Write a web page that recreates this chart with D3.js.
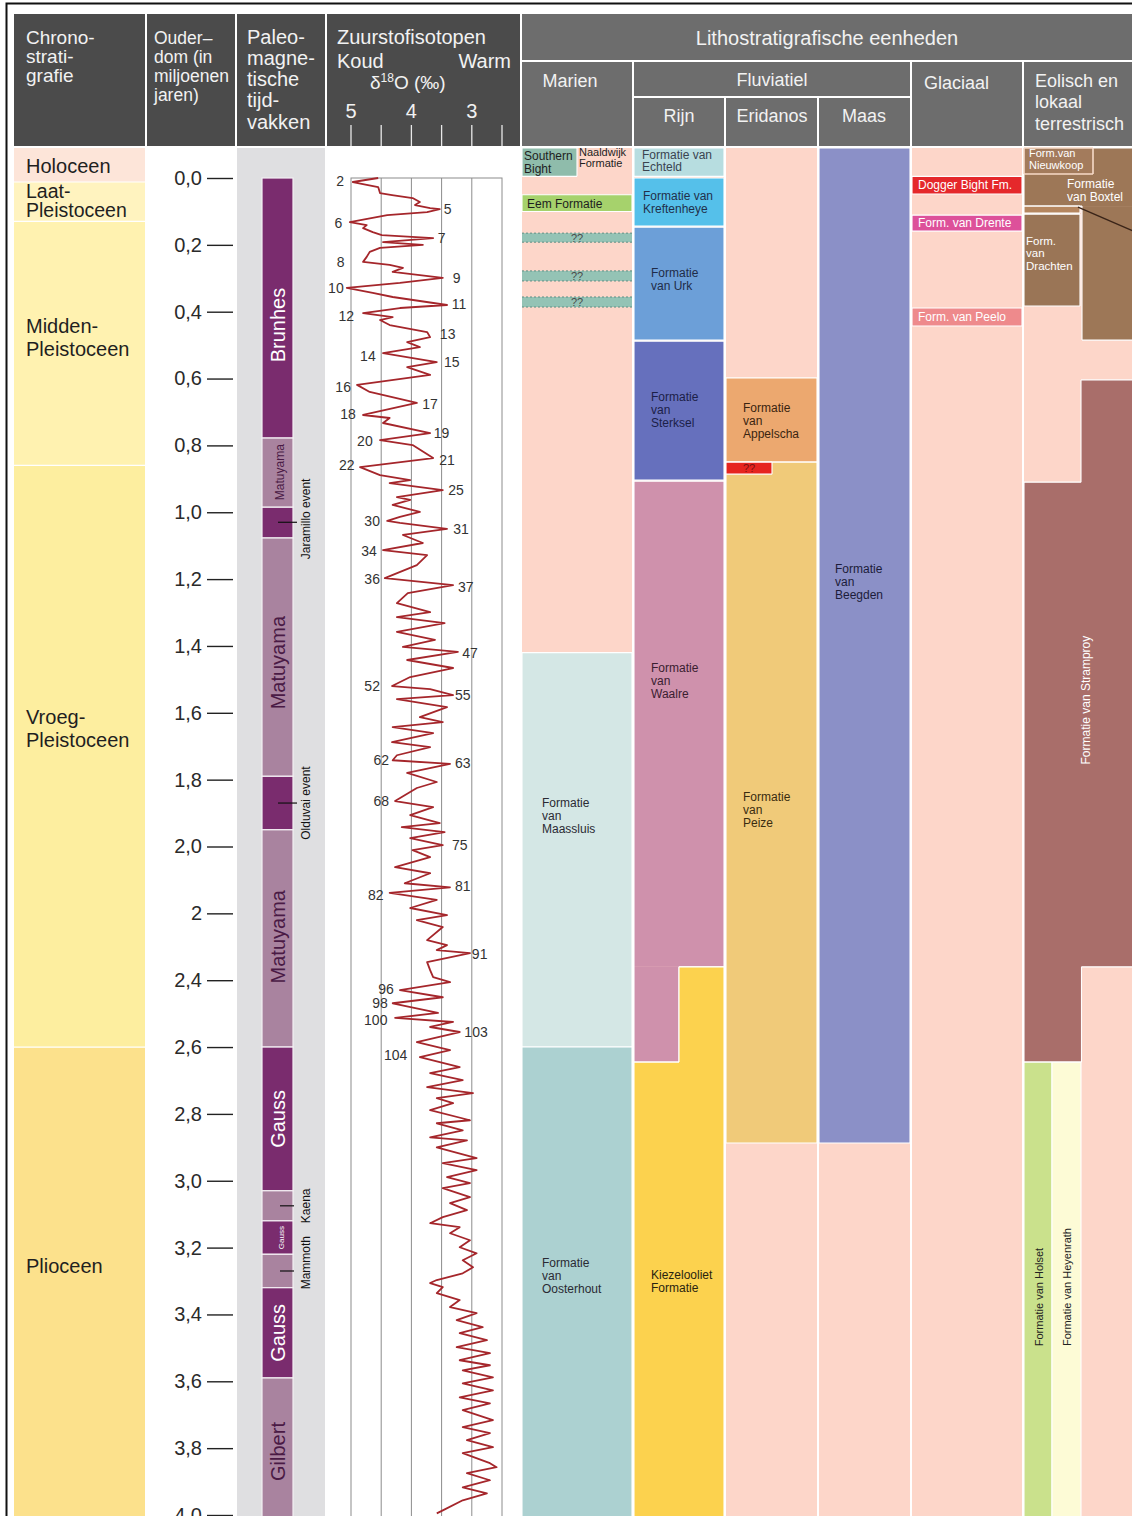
<!DOCTYPE html>
<html><head><meta charset="utf-8">
<script src="https://cdn.jsdelivr.net/npm/d3@7"></script>
<style>
html,body{margin:0;padding:0;background:#fff;}
svg{display:block;font-family:"Liberation Sans",Arial,Helvetica,sans-serif;}
</style></head><body>
<svg id="chart" width="1132" height="1516"></svg>
<script>
// ================= DATA =================
const ageTicks = [0,0.2,0.4,0.6,0.8,1.0,1.2,1.4,1.6,1.8,2.0,2.2,2.4,2.6,2.8,3.0,3.2,3.4,3.6,3.8,4.0];
const ageTickLabels = ["0,0","0,2","0,4","0,6","0,8","1,0","1,2","1,4","1,6","1,8","2,0","2","2,4","2,6","2,8","3,0","3,2","3,4","3,6","3,8","4,0"];
const isoTicks = [5,4.5,4,3.5,3,2.5];
const isoTickLabels = ["5","4","3"];
const isoTickLabelValues = [5,4,3];

const headerChrono = ["Chrono-","strati-","grafie"];
const headerAge = ["Ouder–","dom (in","miljoenen","jaren)"];
const headerMag = ["Paleo-","magne-","tische","tijd-","vakken"];
const headerIso = ["Zuurstofisotopen","Koud","Warm"];
const headerLitho = "Lithostratigrafische eenheden";
const headerGroups = ["Marien","Fluviatiel","Glaciaal","Eolisch en|lokaal|terrestrisch"];
const headerRivers = ["Rijn","Eridanos","Maas"];

// chronostratigraphy (ages in Ma; null = edge of the column)
const chronoNames  = ["Holoceen","Laat-|Pleistoceen","Midden-|Pleistoceen","Vroeg-|Pleistoceen","Plioceen"];
const chronoFrom   = [null, 0.012, 0.13, 0.86, 2.6];
const chronoTo     = [0.012, 0.13, 0.86, 2.6, null];
const chronoLabelAt= [-0.036, 0.066, 0.476, 1.645, 3.255];

// paleomagnetic chrons
const magNames  = ["Brunhes","Matuyama","","Matuyama","","Matuyama","Gauss","","Gauss","","Gauss","Gilbert"];
const magFrom   = [0, 0.778, 0.985, 1.077, 1.79, 1.95, 2.60, 3.03, 3.12, 3.22, 3.32, 3.59];
const magTo     = [0.778, 0.985, 1.077, 1.79, 1.95, 2.60, 3.03, 3.12, 3.22, 3.32, 3.59, null];
const magNormal = [true,false,true,false,true,false,true,false,true,false,true,false];
const magLabelAt= [0.44, 0.88, null, 1.45, null, 2.27, 2.815, null, 3.17, null, 3.455, 3.81];
const magEvents = ["Jaramillo event","Olduvai event","Kaena","Mammoth"];
const magEventAt = [1.03, 1.87, 3.075, 3.27];
const magEventLabelAt = [1.02, 1.87, 3.075, 3.245];

// benthic d18O stack (age in Ma, d18O in permil)
const isoAge = [0.000,0.012,0.027,0.045,0.051,0.060,0.072,0.081,0.090,0.093,0.102,0.111,0.132,0.141,0.150,0.162,0.171,0.180,0.192,0.200,0.209,0.221,0.236,0.251,0.260,0.269,0.281,0.299,0.314,0.329,0.344,0.356,0.380,0.389,0.404,0.416,0.425,0.440,0.461,0.476,0.491,0.506,0.524,0.551,0.566,0.589,0.619,0.640,0.673,0.709,0.718,0.733,0.763,0.784,0.799,0.838,0.865,
0.889,0.904,0.913,0.934,0.955,0.963,0.978,0.999,1.014,1.026,1.032,1.050,1.068,1.092,1.113,1.128,1.158,1.197,1.218,1.242,1.272,1.299,1.314,1.332,1.358,1.382,1.403,1.418,1.442,1.466,1.493,1.520,1.529,1.547,1.559,1.583,1.613,1.628,1.643,1.661,1.688,1.703,1.727,1.742,1.753,1.780,1.807,1.825,1.864,1.882,1.906,1.930,1.942,1.957,1.975,
1.996,2.011,2.032,2.062,2.080,2.110,2.122,2.139,2.160,2.184,2.205,2.220,2.241,2.280,2.295,2.310,2.319,2.346,2.370,2.391,2.406,2.430,2.451,2.469,2.498,2.513,2.525,2.540,2.555,2.585,2.609,2.630,2.660,2.678,2.699,2.720,2.738,2.753,2.768,2.789,2.819,2.828,2.849,2.870,2.879,2.900,2.932,2.947,2.968,2.989,3.007,3.022,3.049,3.067,3.088,3.109,3.127,3.139,3.157,3.178,3.199,3.217,3.238,3.259,3.277,3.297,3.306,3.318,3.336,3.357,3.378,3.396,3.417,3.438,3.456,3.477,3.498,3.516,3.537,3.552,3.567,3.588,3.606,3.627,3.648,3.666,3.686,3.716,3.737,3.755,3.776,3.797,3.815,3.845,3.857,3.875,3.896,3.917,3.935,3.956,3.986,3.995];
const isoD18O = [4.55,4.97,4.55,4.52,4.32,3.98,3.86,3.94,3.69,3.53,3.74,4.40,5.02,4.74,4.80,4.64,4.49,3.64,4.47,3.81,4.52,4.69,4.74,4.80,4.36,4.14,4.31,3.48,4.19,5.07,4.64,4.31,3.41,4.19,4.80,4.31,4.52,4.36,3.74,3.69,4.07,3.86,4.47,3.58,4.07,3.69,4.90,4.69,3.91,4.80,4.36,4.47,3.69,4.52,3.98,3.64,4.85,
4.52,4.02,4.36,3.48,4.24,4.02,4.31,3.86,4.19,4.40,4.19,3.41,4.14,3.81,4.47,3.74,3.91,4.44,3.31,4.06,4.24,3.69,4.24,3.45,4.24,3.61,4.14,3.23,4.07,3.31,4.02,4.32,3.69,3.31,4.24,3.41,3.86,3.48,4.31,3.64,4.32,3.69,4.24,4.31,3.36,4.07,3.58,3.91,4.27,3.64,4.02,3.53,4.16,3.45,4.02,
3.48,3.98,3.69,4.27,3.69,4.11,3.36,4.36,3.58,4.02,3.41,3.91,3.48,3.74,3.41,3.58,3.03,3.74,3.69,3.64,3.36,4.19,3.48,4.31,3.56,4.27,3.31,3.69,3.20,3.91,3.36,3.86,3.20,3.69,3.15,3.74,2.98,3.58,3.31,3.69,3.03,3.58,3.15,3.69,3.08,3.58,2.92,3.48,2.92,3.41,3.03,3.48,3.03,3.36,3.08,3.48,3.69,3.20,3.36,3.03,3.20,2.92,3.15,2.98,3.15,3.58,3.69,3.48,3.58,3.20,3.36,2.92,3.25,2.82,3.20,2.75,3.25,2.70,3.20,2.70,3.15,2.65,3.15,2.65,3.20,2.70,3.15,2.65,3.15,2.70,3.08,2.65,3.15,2.70,2.59,3.08,2.70,3.15,2.75,3.15,3.48,3.58];

// marine isotope stage labels: [label, age (Ma), d18O position]
const misLabels = ["2","5","6","7","8","9","10","11","12","13","14","15","16","17","18","19","20","21","22","25","30","31","34","36","37","47","52","55","62","63","68","75","81","82","91","96","98","100","103","104"];
const misAge = [0.009,0.093,0.135,0.180,0.251,0.299,0.329,0.377,0.413,0.467,0.533,0.551,0.625,0.676,0.706,0.763,0.787,0.844,0.859,0.934,1.026,1.050,1.116,1.200,1.224,1.421,1.520,1.547,1.742,1.751,1.864,1.996,2.119,2.145,2.322,2.427,2.469,2.519,2.555,2.623];
const misD18O = [5.18,3.40,5.21,3.50,5.17,3.25,5.25,3.21,5.08,3.40,4.72,3.33,5.13,3.69,5.05,3.50,4.77,3.41,5.07,3.26,4.65,3.18,4.70,4.65,3.10,3.03,4.65,3.15,4.50,3.15,4.50,3.20,3.15,4.59,2.87,4.42,4.52,4.59,2.93,4.26];

// lithostratigraphic units
const lithoNames = ["Southern Bight","Naaldwijk Formatie","Eem Formatie","??","??","??","Formatie van Maassluis","Formatie van Oosterhout",
 "Formatie van Echteld","Formatie van Kreftenheye","Formatie van Urk","Formatie van Sterksel","Formatie van Waalre","Formatie van Waalre","Kiezelooliet Formatie","Kiezelooliet Formatie",
 "Formatie van Appelscha","Formatie van Peize","??",
 "Formatie van Beegden",
 "Dogger Bight Fm.","Form. van Drente","Form. van Peelo",
 "Formatie van Boxtel","Formatie van Boxtel","Formatie van Boxtel (rand)","Form.van Nieuwkoop","Form. van Drachten","Formatie van Stramproy","Formatie van Stramproy","Formatie van Holset","Formatie van Heyenrath"];
const lithoLabels = ["Southern|Bight","Naaldwijk|Formatie","Eem Formatie","??","??","??","Formatie|van|Maassluis","Formatie|van|Oosterhout",
 "Formatie van|Echteld","Formatie van|Kreftenheye","Formatie|van Urk","Formatie|van|Sterksel","Formatie|van|Waalre","","Kiezelooliet|Formatie","",
 "Formatie|van|Appelscha","Formatie|van|Peize","??",
 "Formatie|van|Beegden",
 "Dogger Bight Fm.","Form. van Drente","Form. van Peelo",
 "Formatie|van Boxtel","","","Form.van|Nieuwkoop","Form.|van|Drachten","Formatie van Stramproy","","Formatie van Holset","Formatie van Heyenrath"];
const lithoColumn = ["Marien","Marien","Marien","Marien","Marien","Marien","Marien","Marien",
 "Rijn","Rijn","Rijn","Rijn","Rijn","Rijn","Rijn","Rijn",
 "Eridanos","Eridanos","Eridanos",
 "Maas",
 "Glaciaal","Glaciaal","Glaciaal",
 "Eolisch","Eolisch","Eolisch","Eolisch","Eolisch","Eolisch","Eolisch","Eolisch","Eolisch"];
const lithoPart = ["a","b","all","all","all","all","all","all",
 "all","all","all","all","all","a","a","b",
 "all","all","a",
 "all",
 "all","all","all",
 "all","b","a","nk","a","d","c","h1","h2"];
const lithoFrom = [null,null,0.05,0.165,0.278,0.356,1.42,2.6,
 null,0.0,0.147,0.488,0.907,2.36,2.645,2.36,
 0.598,0.85,0.85,
 null,
 -0.005,0.111,0.389,
 null,0.084,0.084,null,0.108,0.604,0.91,2.645,2.645];
const lithoTo = [-0.005,-0.005,0.10,0.192,0.308,0.386,2.6,null,
 -0.005,0.144,0.485,0.904,2.36,2.645,null,null,
 0.85,2.887,0.886,
 2.887,
 0.048,0.159,0.443,
 0.084,0.485,0.105,-0.012,0.383,2.36,2.645,null,null];
const lithoLabelAt = [-0.046,-0.06,0.078,null,null,null,1.909,3.285,
 -0.052,0.072,0.302,0.694,1.505,null,3.301,null,
 0.727,1.891,null,
 1.209,
 0.021,0.135,0.416,
 0.037,null,null,-0.057,0.224,1.562,null,3.348,3.318];

// ================= LAYOUT / STYLE =================
const svg = d3.select("#chart");
const yTop = 148, yBot = 1540;
const y = d3.scaleLinear().domain([0,4]).range([178,1515]);
const xIso = d3.scaleLinear().domain([5,2.5]).range([351,502]);
const hdrDark = "#4b4b4b", hdrLite = "#6d6d6d", hdrText = "#f2f2f2";
const peach = "#fdd6c9";

const colX = {chrono:[14,145], age:[147,235], mag:[237,325], iso:[327,520],
  Marien:[522,632], Rijn:[634,724], Eridanos:[726,817], Maas:[819,910], Glaciaal:[912,1022], Eolisch:[1024,1140]};
const partX = {
  Marien:{all:[522,632], a:[522,577], b:[577,632]},
  Rijn:{all:[634,724], a:[634,679], b:[679,724]},
  Eridanos:{all:[726,817], a:[726,772]},
  Maas:{all:[819,910]},
  Glaciaal:{all:[912,1022]},
  Eolisch:{all:[1024,1140], a:[1024,1080], b:[1082,1140], nk:[1024,1093], c:[1024,1081.5], d:[1081,1140], h1:[1024,1052], h2:[1052,1081]}
};
const unitFill = {
 "Southern Bight":"#8fbcab","Naaldwijk Formatie":null,"Eem Formatie":"#a6d26c","Marien:??":"#94c3b5",
 "Formatie van Maassluis":"#d4e7e5","Formatie van Oosterhout":"#acd1d1",
 "Formatie van Echteld":"#b7dde0","Formatie van Kreftenheye":"#55c0ea","Formatie van Urk":"#6c9fd8",
 "Formatie van Sterksel":"#6670bd","Formatie van Waalre":"#cf91ac","Kiezelooliet Formatie":"#fcd24e",
 "Formatie van Appelscha":"#eca86f","Formatie van Peize":"#f0ca79","Eridanos:??":"#e6241f",
 "Formatie van Beegden":"#8b90c7",
 "Dogger Bight Fm.":"#e5282b","Form. van Drente":"#dd519a","Form. van Peelo":"#ee8a8c",
 "Formatie van Boxtel":"#9d7757","Formatie van Boxtel (rand)":"#b5865f","Form.van Nieuwkoop":"#a37b5c",
 "Form. van Drachten":"#9a7556","Formatie van Stramproy":"#a96e6a","Formatie van Holset":"#cae18c","Formatie van Heyenrath":"#fdfbd6"
};
const dark = "#2a2a33";
const labelStyle = {
 "Southern Bight":{x:524,size:12,color:"#1e1e1e",lh:13},
 "Naaldwijk Formatie":{x:579,size:11,color:"#1e1e1e",lh:11},
 "Eem Formatie":{x:527,size:12,color:"#1e1e1e"},
 "Marien:??":{x:577,size:11,color:"#4a4a4a",anchor:"middle"},
 "Eridanos:??":{x:749,size:11,color:"#7a1212",anchor:"middle"},
 "Formatie van Maassluis":{x:542,size:12,color:dark,lh:13},
 "Formatie van Oosterhout":{x:542,size:12,color:dark,lh:13},
 "Formatie van Echteld":{x:642,size:12,color:"#3a4450",lh:12.5},
 "Formatie van Kreftenheye":{x:643,size:12,color:"#22304a",lh:13.5},
 "Formatie van Urk":{x:651,size:12,color:"#1f2c48",lh:13.5},
 "Formatie van Sterksel":{x:651,size:12,color:"#1c2048",lh:13},
 "Formatie van Waalre":{x:651,size:12,color:"#3a2030",lh:13},
 "Kiezelooliet Formatie":{x:651,size:12,color:"#2a2410",lh:13},
 "Formatie van Appelscha":{x:743,size:12,color:"#3a2410",lh:13},
 "Formatie van Peize":{x:743,size:12,color:"#3a2c10",lh:13},
 "Formatie van Beegden":{x:835,size:12,color:"#1c1c3a",lh:13},
 "Dogger Bight Fm.":{x:918,size:12,color:"#fff"},
 "Form. van Drente":{x:918,size:12,color:"#fff"},
 "Form. van Peelo":{x:918,size:12,color:"#fff"},
 "Formatie van Boxtel":{x:1067,size:12,color:"#fff",lh:12.5},
 "Form.van Nieuwkoop":{x:1029,size:11,color:"#fff",lh:11.5},
 "Form. van Drachten":{x:1026,size:11.5,color:"#fff",lh:12.5},
 "Formatie van Stramproy":{x:1086,size:12,color:"#fff",rotate:true},
 "Formatie van Holset":{x:1039,size:11,color:"#222",rotate:true},
 "Formatie van Heyenrath":{x:1067,size:11,color:"#222",rotate:true}
};

function multiline(g, text, x, yc, size, lh, anchor, color){
  const lines = text.split("|");
  const y0 = yc - (lines.length-1)*lh/2 + size*0.36;
  const t = g.append("text").attr("x",x).attr("y",y0).attr("font-size",size)
    .attr("fill",color).attr("text-anchor",anchor||"start");
  lines.forEach((l,i)=>t.append("tspan").attr("x",x).attr("y",y0+i*lh).text(l));
  return t;
}
function lines(g, arr, x, baselines, size, anchor, color){
  arr.forEach((l,i)=>g.append("text").attr("x",x).attr("y",baselines[i]).attr("font-size",size)
    .attr("fill",color).attr("text-anchor",anchor||"start").text(l));
}

// ================= HEADER =================
const gh = svg.append("g");
["chrono","age","mag","iso"].forEach(k=>{
  gh.append("rect").attr("x",colX[k][0]).attr("y",14).attr("width",colX[k][1]-colX[k][0]).attr("height",132).attr("fill",hdrDark);
});
gh.append("rect").attr("x",522).attr("y",14).attr("width",620).attr("height",46).attr("fill",hdrLite);
[["Marien",62,146],["Glaciaal",62,146],["Eolisch",62,146],["Rijn",98,146],["Eridanos",98,146],["Maas",98,146]].forEach(([k,y0,y1])=>{
  gh.append("rect").attr("x",colX[k][0]).attr("y",y0).attr("width",colX[k][1]-colX[k][0]).attr("height",y1-y0).attr("fill",hdrLite);
});
gh.append("rect").attr("x",634).attr("y",62).attr("width",276).attr("height",34).attr("fill",hdrLite);

lines(gh, headerChrono, 26, [44,63,82], 19, "start", hdrText);
lines(gh, headerAge, 154, [44,63,82,101], 17.5, "start", hdrText);
lines(gh, headerMag, 247, [44,65,86,107,129], 20, "start", hdrText);
lines(gh, [headerIso[0]], 337, [44], 20, "start", hdrText);
lines(gh, [headerIso[1]], 337, [68], 20, "start", hdrText);
lines(gh, [headerIso[2]], 511, [68], 20, "end", hdrText);
const dt = gh.append("text").attr("x",370).attr("y",89).attr("font-size",19).attr("fill",hdrText);
dt.append("tspan").text("δ");
dt.append("tspan").attr("dy",-7).attr("font-size",12).text("18");
dt.append("tspan").attr("dy",7).text("O (‰)");
isoTickLabelValues.forEach((v,i)=>gh.append("text").attr("x",xIso(v)).attr("y",118).attr("font-size",20)
  .attr("fill",hdrText).attr("text-anchor","middle").text(isoTickLabels[i]));
isoTicks.forEach(v=>gh.append("line").attr("x1",xIso(v)).attr("x2",xIso(v)).attr("y1",125).attr("y2",146)
  .attr("stroke","#e8e8e8").attr("stroke-width",1.3));

lines(gh, [headerLitho], 827, [45], 20, "middle", hdrText);
lines(gh, [headerGroups[0]], 570, [87], 18, "middle", hdrText);
lines(gh, [headerGroups[1]], 772, [86], 18, "middle", hdrText);
lines(gh, [headerGroups[2]], 924, [89], 18, "start", hdrText);
lines(gh, headerGroups[3].split("|"), 1035, [87,108,130], 18, "start", hdrText);
lines(gh, [headerRivers[0]], 679, [122], 18, "middle", hdrText);
lines(gh, [headerRivers[1]], 772, [122], 18, "middle", hdrText);
lines(gh, [headerRivers[2]], 864, [122], 18, "middle", hdrText);

// ================= CHRONOSTRATIGRAPHY =================
const chronoColor = ["#fde5d9","#fff3bf","#fff2b0","#fdee9f","#fce18c"];
const gc = svg.append("g");
chronoNames.forEach((n,i)=>{
  const y0 = chronoFrom[i]==null? yTop : y(chronoFrom[i]);
  const y1 = chronoTo[i]==null? yBot : y(chronoTo[i]);
  gc.append("rect").attr("x",14).attr("y",y0).attr("width",131).attr("height",y1-y0).attr("fill",chronoColor[i]);
  if(i>0) gc.append("line").attr("x1",14).attr("x2",145).attr("y1",y0).attr("y2",y0).attr("stroke","#fff").attr("stroke-width",1.2);
  multiline(gc, n, 26, y(chronoLabelAt[i]), i==1?19.5:20, i==1?19:23, "start", "#1f1f1f");
});

// ================= AGE AXIS =================
const ageAxis = d3.axisLeft(y).tickValues(ageTicks).tickFormat((d,i)=>ageTickLabels[i]).tickSize(26).tickPadding(5);
const gAx = svg.append("g").attr("transform","translate(233,0)").call(ageAxis);
gAx.select(".domain").remove();
gAx.attr("font-family",null).attr("font-size",20);
gAx.selectAll(".tick line").attr("stroke","#222").attr("stroke-width",1.4);
gAx.selectAll(".tick text").attr("fill","#2a2a2a");

// ================= PALEOMAGNETISM =================
const gm = svg.append("g");
gm.append("rect").attr("x",237).attr("y",yTop).attr("width",88).attr("height",yBot-yTop).attr("fill","#dfdfe1");
magNames.forEach((n,i)=>{
  const y0 = y(magFrom[i]);
  const y1 = magTo[i]==null? yBot : y(magTo[i]);
  gm.append("rect").attr("x",262).attr("y",y0).attr("width",31).attr("height",y1-y0)
    .attr("fill",magNormal[i]?"#7a2c6e":"#a9839f").attr("stroke","#f4f0f4").attr("stroke-width",1.2);
  if(n){
    const h = y1-y0;
    const size = h>80?20:(h>50?12:8);
    gm.append("text").attr("transform",`translate(284,${y(magLabelAt[i])}) rotate(-90)`)
      .attr("x",0).attr("y",0).attr("dy", size*0.36 - (size>=20?6:(size>=12?4:3)))
      .attr("font-size",size).attr("text-anchor","middle")
      .attr("fill",magNormal[i]?"#ffffff":"#4a1a45").text(n);
  }
});
magEvents.forEach((n,i)=>{
  const yy = y(magEventAt[i]);
  const big = i<2;
  gm.append("line").attr("x1",big?278:280).attr("x2",big?297:294).attr("y1",yy).attr("y2",yy).attr("stroke","#111").attr("stroke-width",1.2);
  gm.append("text").attr("transform",`translate(310,${y(magEventLabelAt[i])}) rotate(-90)`)
    .attr("font-size",12).attr("text-anchor","middle").attr("fill","#111").text(n);
});

// ================= OXYGEN ISOTOPES =================
const gi = svg.append("g");
gi.append("rect").attr("x",xIso(5)).attr("y",y(0)).attr("width",xIso(2.5)-xIso(5)).attr("height",yBot-y(0))
  .attr("fill","#fff").attr("stroke","#8c8c8c").attr("stroke-width",1);
[4.5,4,3.5,3].forEach(v=>gi.append("line").attr("x1",xIso(v)).attr("x2",xIso(v)).attr("y1",y(0)).attr("y2",yBot)
  .attr("stroke","#8c8c8c").attr("stroke-width",1));
const isoData = isoAge.map((a,i)=>[a,isoD18O[i]]);
gi.append("path").datum(isoData)
  .attr("d", d3.line().x(d=>xIso(d[1])).y(d=>y(d[0])))
  .attr("fill","none").attr("stroke","#a5262b").attr("stroke-width",1.8).attr("stroke-linejoin","round");
misLabels.forEach((l,i)=>gi.append("text").attr("x",xIso(misD18O[i])).attr("y",y(misAge[i])).attr("dy","0.36em")
  .attr("font-size",14).attr("text-anchor","middle").attr("fill","#333").text(l));

// ================= LITHOSTRATIGRAPHY =================
const gl = svg.append("g");
["Marien","Rijn","Eridanos","Maas","Glaciaal","Eolisch"].forEach(k=>{
  gl.append("rect").attr("x",colX[k][0]).attr("y",yTop).attr("width",colX[k][1]-colX[k][0]).attr("height",yBot-yTop).attr("fill",peach);
});

function outlinePath(rects){
  const xs=[...new Set(rects.flatMap(r=>[r[0],r[1]]))].sort((a,b)=>a-b);
  const ys=[...new Set(rects.flatMap(r=>[r[2],r[3]]))].sort((a,b)=>a-b);
  const cov=(i,j)=>{
    if(i<0||j<0||i>=xs.length-1||j>=ys.length-1) return false;
    const cx=(xs[i]+xs[i+1])/2, cy=(ys[j]+ys[j+1])/2;
    return rects.some(r=>cx>r[0]&&cx<r[1]&&cy>r[2]&&cy<r[3]);
  };
  let p="";
  for(let i=0;i<xs.length-1;i++) for(let j=0;j<ys.length-1;j++){
    if(!cov(i,j)) continue;
    if(!cov(i-1,j)) p+=`M${xs[i]},${ys[j]}V${ys[j+1]}`;
    if(!cov(i+1,j)) p+=`M${xs[i+1]},${ys[j]}V${ys[j+1]}`;
    if(!cov(i,j-1)) p+=`M${xs[i]},${ys[j]}H${xs[i+1]}`;
    if(!cov(i,j+1)) p+=`M${xs[i]},${ys[j+1]}H${xs[i+1]}`;
  }
  return p;
}

const units = lithoNames.map((n,i)=>{
  const px = partX[lithoColumn[i]][lithoPart[i]];
  return {name:n, col:lithoColumn[i], label:lithoLabels[i],
    x0:px[0], x1:px[1],
    y0: lithoFrom[i]==null? yTop : y(lithoFrom[i]),
    y1: lithoTo[i]==null? yBot : y(lithoTo[i]),
    labelAt:lithoLabelAt[i], idx:i};
});
const key = u => unitFill.hasOwnProperty(u.col+":"+u.name) ? u.col+":"+u.name : u.name;
const groups = d3.groups(units, u => u.name==="??" ? "q"+u.idx : u.col+":"+u.name);
groups.forEach(([g, us])=>{
  const fill = unitFill[key(us[0])];
  if(!fill) return;
  us.forEach(u=>gl.append("rect").attr("x",u.x0).attr("y",u.y0).attr("width",u.x1-u.x0).attr("height",u.y1-u.y0).attr("fill",fill));
  if(us[0].name==="??" && us[0].col==="Marien"){
    us.forEach(u=>{
      [u.y0,u.y1].forEach(yy=>gl.append("line").attr("x1",u.x0).attr("x2",u.x1).attr("y1",yy).attr("y2",yy)
        .attr("stroke","#5f8f84").attr("stroke-width",1).attr("stroke-dasharray","2,2"));
    });
  } else {
    const nk = us[0].name==="Form.van Nieuwkoop";
    gl.append("path").attr("d",outlinePath(us.map(u=>[u.x0,u.x1,u.y0,u.y1])))
      .attr("fill","none").attr("stroke",nk?"#f7dac8":"#ffffff").attr("stroke-width",nk?1.6:1.1);
  }
});
// pointer line from Boxtel
gl.append("line").attr("x1",1078).attr("y1",y(0.087)).attr("x2",1134).attr("y2",y(0.16))
  .attr("stroke","#3a2418").attr("stroke-width",1.4);
// labels
units.forEach(u=>{
  if(!u.label) return;
  const st = labelStyle[key(u)];
  if(!st) return;
  const yc = u.labelAt==null ? (u.y0+u.y1)/2 : y(u.labelAt);
  if(st.rotate){
    gl.append("text").attr("transform",`translate(${st.x},${yc}) rotate(-90)`).attr("dy","0.36em")
      .attr("font-size",st.size).attr("text-anchor","middle").attr("fill",st.color).text(u.label);
  } else {
    multiline(gl, u.label, st.x, yc, st.size, st.lh||13, st.anchor||"start", st.color);
  }
});

// outer frame
svg.append("rect").attr("x",6.5).attr("y",3.5).attr("width",1200).attr("height",1600)
  .attr("fill","none").attr("stroke","#111").attr("stroke-width",2);
</script>
</body></html>
